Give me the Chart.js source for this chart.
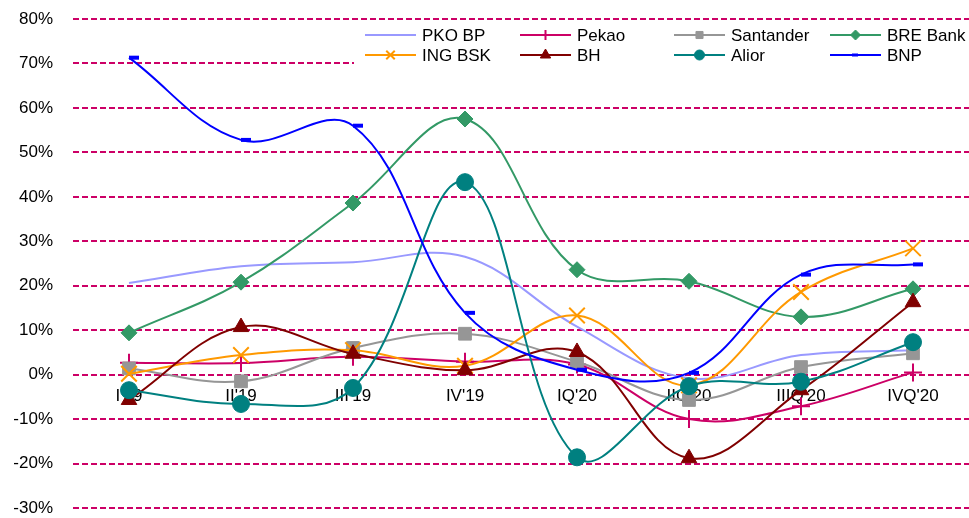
<!DOCTYPE html>
<html>
<head>
<meta charset="utf-8">
<script src="https://cdn.jsdelivr.net/npm/chart.js@4/dist/chart.umd.min.js"></script>
<style>
  html, body { margin: 0; padding: 0; background: #ffffff; }
  #wrap { position: relative; width: 969px; height: 518px; }
</style>
</head>
<body>
<div id="wrap"><canvas id="chart" width="969" height="518"></canvas></div>
<script>
// Quarterly change, % (per bank)
const categories = ["I'19", "II'19", "III'19", "IV'19", "IQ'20", "IIQ'20", "IIIQ'20", "IVQ'20"];
const pkoBp     = [20.6, 24.4, 25.3, 26.5, 10.8, -0.8, 4.4, 5.5];
const pekao     = [2.7, 2.6, 4.0, 2.9, 2.3, -10.0, -7.1, 0.5];
const santander = [1.4, -1.5, 6.0, 9.2, 2.9, -5.7, 1.7, 4.8];
const breBank   = [9.4, 20.8, 38.6, 57.5, 23.6, 21.0, 13.0, 19.3];
const ingBsk    = [0.2, 4.4, 5.5, 2.0, 13.3, -2.4, 18.6, 28.4];
const bh        = [-5.7, 10.7, 4.7, 1.0, 5.1, -18.8, -3.5, 16.3];
const alior     = [-3.5, -6.6, -3.0, 43.3, -18.6, -2.6, -1.6, 7.3];
const bnp       = [71.3, 52.8, 56.0, 13.9, 1.1, 0.4, 22.5, 24.8];
const yTicks    = [80, 70, 60, 50, 40, 30, 20, 10, 0, -10, -20, -30];

const FONT = '"Liberation Sans", Arial, sans-serif';

// label, values, colour, marker style, marker radius, marker border width, legend marker radius
const series = [
  ['PKO BP',    pkoBp,     '#9999FF', 'circle',   0, 0, 0],
  ['Pekao',     pekao,     '#CC0066', 'cross',    9, 2, 5],
  ['Santander', santander, '#969696', 'rect',     9, 1, 5],
  ['BRE Bank',  breBank,   '#339966', 'rectRot',  8, 1, 5],
  ['ING BSK',   ingBsk,    '#FF9900', 'crossRot', 11, 2, 6],
  ['BH',        bh,        '#800000', 'triangle', 9, 1, 6],
  ['Alior',     alior,     '#008080', 'circle',   8.5, 1, 5],
  ['BNP',       bnp,       '#0000FF', 'dash',     10, 4, 6]
];

const datasets = series.map(([label, data, color, style, r, bw], i) => ({
  label,
  data,
  borderColor: color,
  backgroundColor: color,
  borderWidth: 2,
  tension: 0.38,
  pointStyle: style,
  pointRadius: r,
  pointHoverRadius: r,
  pointBorderWidth: bw,
  pointBorderColor: color,
  pointBackgroundColor: color,
  order: series.length - 1 - i,
  clip: false
}));

// Legend block: two rows of four items on a white panel
const legendPanel = {
  id: 'legendPanel',
  afterDraw(chart) {
    const ctx = chart.ctx;
    ctx.save();
    ctx.fillStyle = '#ffffff';
    ctx.fillRect(354, 24, 615, 45);
    const colX = [365, 520, 674, 830];
    const rowY = [35, 55];
    ctx.font = '17px ' + FONT;
    ctx.textBaseline = 'middle';
    ctx.textAlign = 'left';
    series.forEach(([label, , color, style, , bw, lr], i) => {
      const x0 = colX[i % 4];
      const y = rowY[Math.floor(i / 4)];
      ctx.strokeStyle = color;
      ctx.lineWidth = 2;
      ctx.setLineDash([]);
      ctx.beginPath();
      ctx.moveTo(x0, y);
      ctx.lineTo(x0 + 51, y);
      ctx.stroke();
      if (lr > 0) {
        ctx.fillStyle = color;
        ctx.strokeStyle = color;
        ctx.lineWidth = style === 'dash' ? 3 : Math.min(bw, 2);
        Chart.helpers.drawPoint(ctx, {
          pointStyle: style, radius: lr, rotation: 0, borderWidth: ctx.lineWidth
        }, x0 + (style === 'dash' ? 22 : 25.5), y);
      }
      ctx.fillStyle = '#000000';
      ctx.fillText(label, x0 + 57, y + 1);
    });
    ctx.restore();
  }
};

new Chart(document.getElementById('chart'), {
  type: 'line',
  data: { labels: categories, datasets },
  options: {
    responsive: false,
    animation: false,
    events: [],
    layout: { autoPadding: false, padding: { top: 19, right: 0, bottom: 10, left: 0 } },
    plugins: { legend: { display: false }, tooltip: { enabled: false } },
    scales: {
      y: {
        min: yTicks[yTicks.length - 1],
        max: yTicks[0],
        afterBuildTicks: (scale) => { scale.ticks = yTicks.map(v => ({ value: v })); },
        afterFit: (scale) => {
          scale.width = 73;
          scale.paddingTop = 0;
          scale.paddingBottom = 0;
        },
        ticks: {
          padding: 20,
          color: '#000000',
          font: { family: FONT, size: 17 },
          callback: (v) => v + '%'
        },
        grid: { color: '#CC0066', lineWidth: 2, drawTicks: false },
        border: { display: false, dash: [6, 3] }
      },
      x: {
        position: { y: 0 },
        offset: true,
        afterFit: (scale) => {
          scale.height = 0;
          scale.paddingLeft = 0;
          scale.paddingRight = 0;
        },
        grid: { display: false, drawTicks: false },
        border: { display: false },
        ticks: {
          padding: 11,
          color: '#000000',
          maxRotation: 0,
          autoSkip: false,
          font: { family: FONT, size: 17 }
        }
      }
    }
  },
  plugins: [legendPanel]
});
</script>
</body>
</html>
